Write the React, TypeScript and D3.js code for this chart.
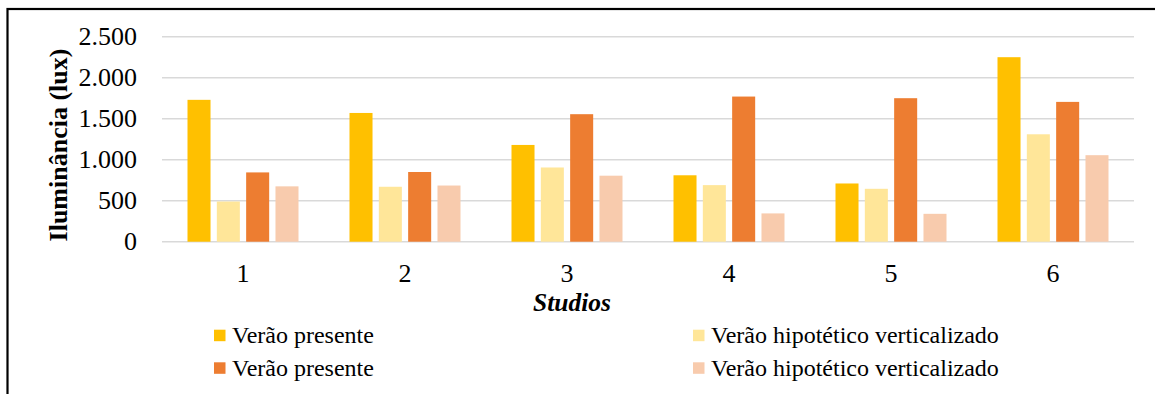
import React from "react";
import * as d3 from "d3";

const categories = ["1", "2", "3", "4", "5", "6"];
const seriesNames = [
  "Verão presente",
  "Verão hipotético verticalizado",
  "Verão presente",
  "Verão hipotético verticalizado",
];
const seriesColors = ["#FFC000", "#FFE699", "#ED7D31", "#F8CBAD"];
const presente1 = [1730, 1570, 1180, 810, 710, 2250];
const hipotetico1 = [490, 670, 905, 690, 645, 1310];
const presente2 = [845, 850, 1555, 1770, 1750, 1705];
const hipotetico2 = [675, 685, 805, 345, 340, 1055];
const yTicks = [0, 500, 1000, 1500, 2000, 2500];

const seriesValues = [presente1, hipotetico1, presente2, hipotetico2];

const W = 1155;
const H = 394;
const FONT = '"Liberation Serif", "Times New Roman", serif';

const fmt = (v: number) => d3.format(",")(v).replace(/,/g, ".");

export default function App() {
  const x0 = d3.scaleBand<string>().domain(categories).range([162, 1134]).padding(0);
  const x1 = d3
    .scaleBand<number>()
    .domain([0, 1, 2, 3])
    .range([25.5, 136.5])
    .paddingInner(0.215)
    .paddingOuter(0);
  const y = d3.scaleLinear().domain([0, 2500]).range([241.7, 36.7]);

  const legendItems = seriesNames.map((name, i) => ({
    name,
    color: seriesColors[i],
    col: i % 2,
    row: Math.floor(i / 2),
  }));
  const legendColX = [214, 693];
  const legendRowY = [329.7, 362.3];

  return (
    <svg
      width={W}
      height={H}
      style={{ position: "absolute", left: 0, top: 0, background: "#fff" }}
      fontFamily={FONT}
    >
      <rect x={0} y={0} width={W} height={H} fill="#fff" />
      {/* outer frame */}
      <rect x={7.5} y={9} width={W + 20} height={H + 20} fill="none" stroke="#000" strokeWidth={2.2} />

      {/* gridlines */}
      {yTicks.map((t) => (
        <line
          key={t}
          x1={162}
          x2={1134}
          y1={y(t)}
          y2={y(t)}
          stroke="#d9d9d9"
          strokeWidth={1.4}
        />
      ))}

      {/* y tick labels */}
      {yTicks.map((t) => (
        <text
          key={"l" + t}
          x={137}
          y={y(t)}
          dy="0.33em"
          textAnchor="end"
          fontSize={26}
          fill="#000"
        >
          {fmt(t)}
        </text>
      ))}

      {/* bars */}
      {categories.map((c, ci) => (
        <g key={c} transform={`translate(${x0(c)},0)`}>
          {seriesValues.map((vals, si) => (
            <rect
              key={si}
              x={x1(si)}
              y={y(vals[ci])}
              width={x1.bandwidth()}
              height={y(0) - y(vals[ci])}
              fill={seriesColors[si]}
            />
          ))}
        </g>
      ))}

      {/* x labels */}
      {categories.map((c) => (
        <text
          key={"x" + c}
          x={(x0(c) ?? 0) + x0.bandwidth() / 2}
          y={282}
          textAnchor="middle"
          fontSize={26}
          fill="#000"
        >
          {c}
        </text>
      ))}

      {/* axis titles */}
      <text
        x={572}
        y={310.5}
        textAnchor="middle"
        fontSize={25.5}
        fontWeight="bold"
        fontStyle="italic"
        fill="#000"
      >
        Studios
      </text>
      <text
        transform={`translate(67,145) rotate(-90)`}
        textAnchor="middle"
        fontSize={26}
        fontWeight="bold"
        fill="#000"
      >
        Iluminância (lux)
      </text>

      {/* legend */}
      {legendItems.map((it, i) => (
        <g key={"lg" + i}>
          <rect
            x={legendColX[it.col]}
            y={legendRowY[it.row]}
            width={11.5}
            height={11.5}
            fill={it.color}
          />
          <text
            x={legendColX[it.col] + 18}
            y={legendRowY[it.row] + 13.3}
            fontSize={24}
            fill="#000"
          >
            {it.name}
          </text>
        </g>
      ))}
    </svg>
  );
}
